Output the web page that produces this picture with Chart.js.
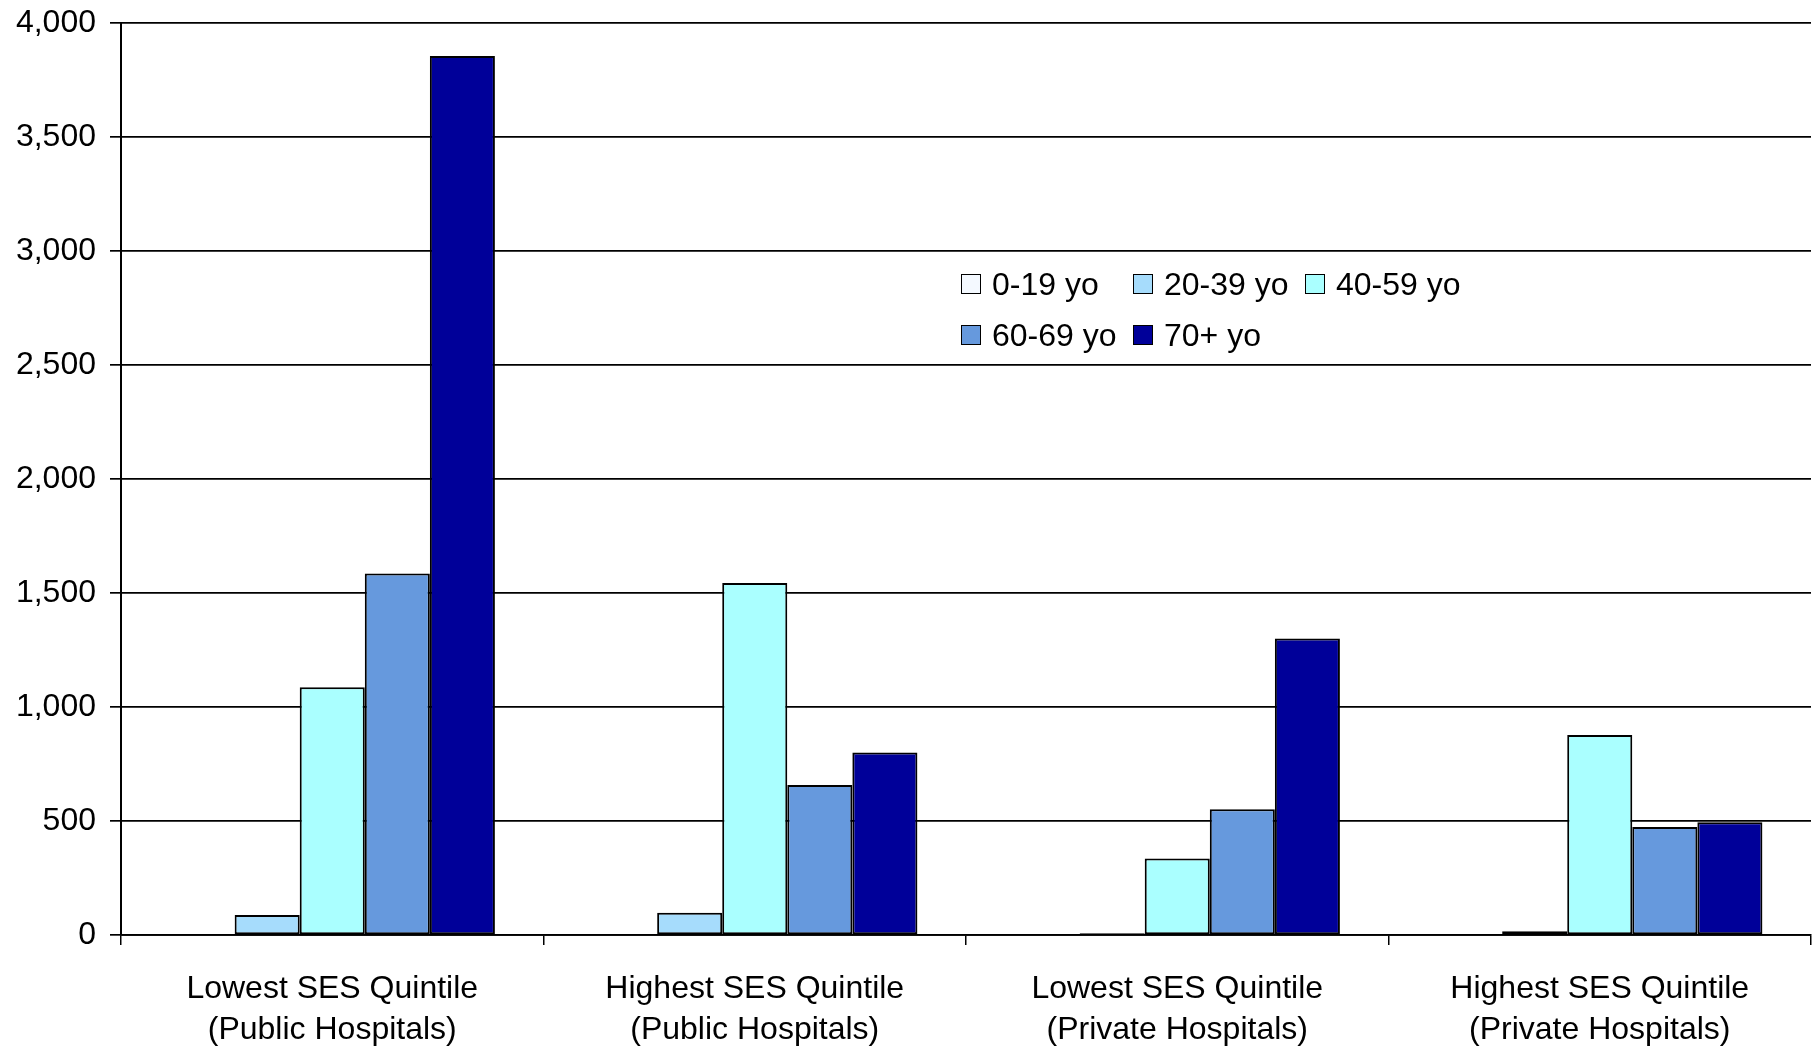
<!DOCTYPE html>
<html>
<head>
<meta charset="utf-8">
<script src="https://cdn.jsdelivr.net/npm/chart.js@4.4.0/dist/chart.umd.min.js"></script>
<style>
  body { margin: 0; background: #fff; }
  #wrap { position: relative; width: 1814px; height: 1049px; }
  #legend {
    position: absolute; left: 961px; top: 263px;
    display: grid; grid-template-columns: 172px 172px 172px; row-gap: 9px;
    font-family: "Liberation Sans", Arial, sans-serif; font-size: 32px; color: #000;
  }
  .item { display: flex; align-items: center; height: 42px; white-space: nowrap; }
  .box { width: 20px; height: 20px; border: 1.5px solid #000; margin-right: 11px; box-sizing: border-box; }
</style>
</head>
<body>
<div id="wrap">
  <canvas id="myChart" width="1814" height="1049"></canvas>
  <div id="legend"></div>
</div>
<script>
// categories along the x axis
const categories = [
  ["Lowest SES Quintile", "(Public Hospitals)"],
  ["Highest SES Quintile", "(Public Hospitals)"],
  ["Lowest SES Quintile", "(Private Hospitals)"],
  ["Highest SES Quintile", "(Private Hospitals)"]
];

// series values
const age0_19 = [0, 0, 0, 0];
const age20_39 = [88, 98, 8, 16];
const age40_59 = [1087, 1544, 336, 877];
const age60_69 = [1586, 658, 551, 474];
const age70plus = [3855, 800, 1300, 494];

const seriesNames = ["0-19 yo", "20-39 yo", "40-59 yo", "60-69 yo", "70+ yo"];
const seriesValues = [age0_19, age20_39, age40_59, age60_69, age70plus];
const colors = ["#F4F9FF", "#A6DCFC", "#AAFFFF", "#6699DD", "#000099"];

const yTicks = { min: 0, max: 4000, step: 500 };

const datasets = seriesNames.map((name, i) => ({
  label: name,
  data: seriesValues[i],
  backgroundColor: colors[i],
  borderColor: "#000",
  borderWidth: 2,
  borderSkipped: false,
  categoryPercentage: 0.77,
  barPercentage: 1.0
}));

const font = "'Liberation Sans', Arial, sans-serif";

new Chart(document.getElementById("myChart").getContext("2d"), {
  type: "bar",
  data: { labels: categories, datasets: datasets },
  options: {
    responsive: false,
    animation: false,
    layout: { padding: { left: 0, top: 23, right: 3, bottom: 0 } },
    plugins: { legend: { display: false }, tooltip: { enabled: false } },
    scales: {
      x: {
        offset: true,
        grid: { offset: true, drawOnChartArea: false, drawTicks: true, tickLength: 10, color: "#000", lineWidth: 1.5 },
        border: { color: "#000", width: 1.8 },
        ticks: { color: "#000", padding: 23, maxRotation: 0, autoSkip: false, font: { family: font, size: 32, lineHeight: 1.3 } },
        afterFit: (s) => { s.height = 1049 - 935; s.paddingLeft = 0; s.paddingRight = 0; }
      },
      y: {
        min: yTicks.min,
        max: yTicks.max,
        grid: { color: "#000", lineWidth: 1.7, tickLength: 11 },
        border: { color: "#000", width: 2 },
        ticks: { stepSize: yTicks.step, color: "#000", padding: 14, font: { family: font, size: 32 } },
        afterFit: (s) => { s.width = 121; s.paddingTop = 0; s.paddingBottom = 0; }
      }
    }
  }
});

// legend laid out in the plot area like the original
const legend = document.getElementById("legend");
seriesNames.forEach((name, i) => {
  const item = document.createElement("div");
  item.className = "item";
  item.innerHTML = '<span class="box" style="background:' + colors[i] + '"></span>' + name;
  legend.appendChild(item);
});
</script>
</body>
</html>
